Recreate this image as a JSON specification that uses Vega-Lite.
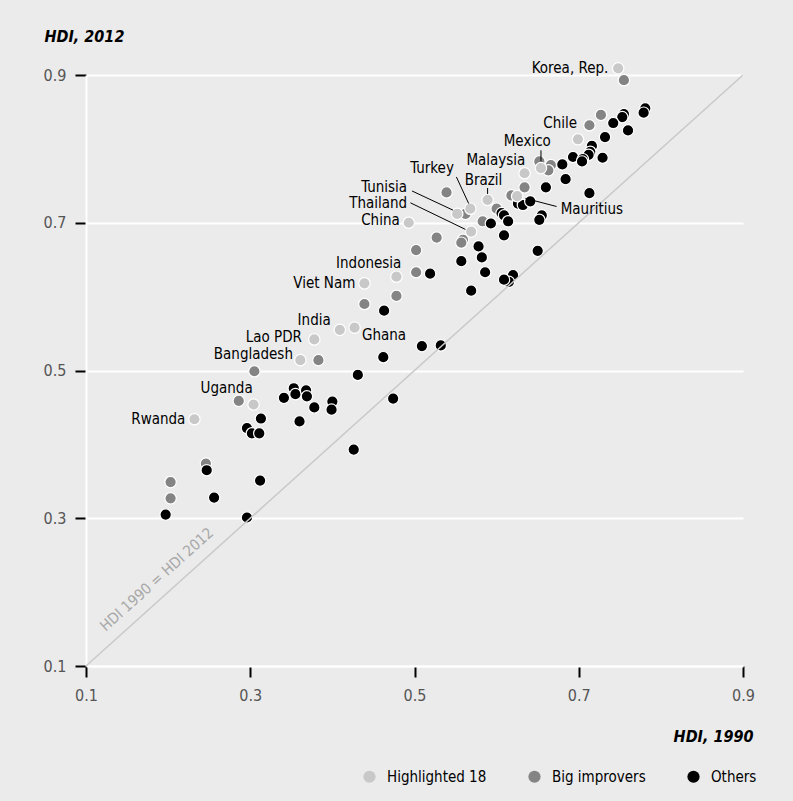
{
  "$schema": "https://vega.github.io/schema/vega-lite/v6.json",
  "width": 657,
  "height": 591,
  "autosize": {"type": "none"},
  "padding": {"left": 86, "top": 75, "right": 50, "bottom": 135},
  "background": "#ebebeb",
  "config": {
    "view": {"stroke": null},
    "font": "DejaVu Sans Condensed, sans-serif"
  },
  "datasets": {
    "diag": [{"x": 0.1, "y": 0.1, "x2": 0.9, "y2": 0.9}],
    "diaglabel": [{"x": 0.124, "y": 0.146, "text": "HDI 1990 = HDI 2012"}],
    "points": [
      {"x": 0.755, "y": 0.893, "group": "Big improvers"},
      {"x": 0.727, "y": 0.846, "group": "Big improvers"},
      {"x": 0.713, "y": 0.832, "group": "Big improvers"},
      {"x": 0.652, "y": 0.783, "group": "Big improvers"},
      {"x": 0.666, "y": 0.778, "group": "Big improvers"},
      {"x": 0.663, "y": 0.771, "group": "Big improvers"},
      {"x": 0.634, "y": 0.748, "group": "Big improvers"},
      {"x": 0.618, "y": 0.737, "group": "Big improvers"},
      {"x": 0.539, "y": 0.741, "group": "Big improvers"},
      {"x": 0.562, "y": 0.712, "group": "Big improvers"},
      {"x": 0.600, "y": 0.719, "group": "Big improvers"},
      {"x": 0.583, "y": 0.702, "group": "Big improvers"},
      {"x": 0.559, "y": 0.677, "group": "Big improvers"},
      {"x": 0.557, "y": 0.673, "group": "Big improvers"},
      {"x": 0.527, "y": 0.680, "group": "Big improvers"},
      {"x": 0.502, "y": 0.663, "group": "Big improvers"},
      {"x": 0.502, "y": 0.633, "group": "Big improvers"},
      {"x": 0.478, "y": 0.601, "group": "Big improvers"},
      {"x": 0.439, "y": 0.590, "group": "Big improvers"},
      {"x": 0.383, "y": 0.514, "group": "Big improvers"},
      {"x": 0.305, "y": 0.499, "group": "Big improvers"},
      {"x": 0.286, "y": 0.459, "group": "Big improvers"},
      {"x": 0.246, "y": 0.374, "group": "Big improvers"},
      {"x": 0.203, "y": 0.349, "group": "Big improvers"},
      {"x": 0.203, "y": 0.327, "group": "Big improvers"},
      {"x": 0.781, "y": 0.855, "group": "Others"},
      {"x": 0.779, "y": 0.849, "group": "Others"},
      {"x": 0.755, "y": 0.847, "group": "Others"},
      {"x": 0.753, "y": 0.843, "group": "Others"},
      {"x": 0.742, "y": 0.835, "group": "Others"},
      {"x": 0.760, "y": 0.825, "group": "Others"},
      {"x": 0.732, "y": 0.816, "group": "Others"},
      {"x": 0.716, "y": 0.804, "group": "Others"},
      {"x": 0.714, "y": 0.796, "group": "Others"},
      {"x": 0.712, "y": 0.792, "group": "Others"},
      {"x": 0.729, "y": 0.788, "group": "Others"},
      {"x": 0.693, "y": 0.789, "group": "Others"},
      {"x": 0.705, "y": 0.786, "group": "Others"},
      {"x": 0.704, "y": 0.783, "group": "Others"},
      {"x": 0.680, "y": 0.779, "group": "Others"},
      {"x": 0.684, "y": 0.759, "group": "Others"},
      {"x": 0.660, "y": 0.748, "group": "Others"},
      {"x": 0.713, "y": 0.740, "group": "Others"},
      {"x": 0.626, "y": 0.726, "group": "Others"},
      {"x": 0.632, "y": 0.724, "group": "Others"},
      {"x": 0.641, "y": 0.729, "group": "Others"},
      {"x": 0.606, "y": 0.713, "group": "Others"},
      {"x": 0.609, "y": 0.710, "group": "Others"},
      {"x": 0.614, "y": 0.702, "group": "Others"},
      {"x": 0.593, "y": 0.699, "group": "Others"},
      {"x": 0.655, "y": 0.710, "group": "Others"},
      {"x": 0.652, "y": 0.704, "group": "Others"},
      {"x": 0.609, "y": 0.683, "group": "Others"},
      {"x": 0.578, "y": 0.668, "group": "Others"},
      {"x": 0.650, "y": 0.662, "group": "Others"},
      {"x": 0.582, "y": 0.653, "group": "Others"},
      {"x": 0.557, "y": 0.648, "group": "Others"},
      {"x": 0.519, "y": 0.631, "group": "Others"},
      {"x": 0.586, "y": 0.633, "group": "Others"},
      {"x": 0.620, "y": 0.629, "group": "Others"},
      {"x": 0.615, "y": 0.620, "group": "Others"},
      {"x": 0.609, "y": 0.623, "group": "Others"},
      {"x": 0.569, "y": 0.608, "group": "Others"},
      {"x": 0.463, "y": 0.581, "group": "Others"},
      {"x": 0.509, "y": 0.533, "group": "Others"},
      {"x": 0.532, "y": 0.534, "group": "Others"},
      {"x": 0.462, "y": 0.518, "group": "Others"},
      {"x": 0.431, "y": 0.494, "group": "Others"},
      {"x": 0.474, "y": 0.462, "group": "Others"},
      {"x": 0.400, "y": 0.458, "group": "Others"},
      {"x": 0.399, "y": 0.447, "group": "Others"},
      {"x": 0.426, "y": 0.393, "group": "Others"},
      {"x": 0.353, "y": 0.476, "group": "Others"},
      {"x": 0.355, "y": 0.468, "group": "Others"},
      {"x": 0.368, "y": 0.473, "group": "Others"},
      {"x": 0.369, "y": 0.465, "group": "Others"},
      {"x": 0.341, "y": 0.463, "group": "Others"},
      {"x": 0.378, "y": 0.450, "group": "Others"},
      {"x": 0.360, "y": 0.431, "group": "Others"},
      {"x": 0.313, "y": 0.435, "group": "Others"},
      {"x": 0.296, "y": 0.422, "group": "Others"},
      {"x": 0.302, "y": 0.415, "group": "Others"},
      {"x": 0.311, "y": 0.415, "group": "Others"},
      {"x": 0.247, "y": 0.365, "group": "Others"},
      {"x": 0.312, "y": 0.351, "group": "Others"},
      {"x": 0.256, "y": 0.328, "group": "Others"},
      {"x": 0.197, "y": 0.305, "group": "Others"},
      {"x": 0.296, "y": 0.301, "group": "Others"},
      {"x": 0.748, "y": 0.909, "group": "Highlighted 18", "country": "Korea, Rep."},
      {"x": 0.699, "y": 0.813, "group": "Highlighted 18", "country": "Chile"},
      {"x": 0.654, "y": 0.774, "group": "Highlighted 18", "country": "Mexico"},
      {"x": 0.634, "y": 0.767, "group": "Highlighted 18", "country": "Malaysia"},
      {"x": 0.589, "y": 0.731, "group": "Highlighted 18", "country": "Brazil"},
      {"x": 0.625, "y": 0.736, "group": "Highlighted 18", "country": "Mauritius"},
      {"x": 0.568, "y": 0.719, "group": "Highlighted 18", "country": "Turkey"},
      {"x": 0.552, "y": 0.712, "group": "Highlighted 18", "country": "Tunisia"},
      {"x": 0.569, "y": 0.688, "group": "Highlighted 18", "country": "Thailand"},
      {"x": 0.493, "y": 0.700, "group": "Highlighted 18", "country": "China"},
      {"x": 0.478, "y": 0.627, "group": "Highlighted 18", "country": "Indonesia"},
      {"x": 0.439, "y": 0.618, "group": "Highlighted 18", "country": "Viet Nam"},
      {"x": 0.409, "y": 0.555, "group": "Highlighted 18", "country": "India"},
      {"x": 0.427, "y": 0.558, "group": "Highlighted 18", "country": "Ghana"},
      {"x": 0.378, "y": 0.542, "group": "Highlighted 18", "country": "Lao PDR"},
      {"x": 0.361, "y": 0.514, "group": "Highlighted 18", "country": "Bangladesh"},
      {"x": 0.304, "y": 0.454, "group": "Highlighted 18", "country": "Uganda"},
      {"x": 0.232, "y": 0.434, "group": "Highlighted 18", "country": "Rwanda"}
    ],
    "leaders": [
      {"x": 0.654, "y": 0.798, "x2": 0.654, "y2": 0.783},
      {"x": 0.589, "y": 0.747, "x2": 0.589, "y2": 0.739},
      {"x": 0.551, "y": 0.762, "x2": 0.566, "y2": 0.726},
      {"x": 0.497, "y": 0.743, "x2": 0.547, "y2": 0.717},
      {"x": 0.495, "y": 0.727, "x2": 0.562, "y2": 0.691},
      {"x": 0.635, "y": 0.733, "x2": 0.673, "y2": 0.722}
    ],
    "labelsRight": [
      {"x": 0.736, "y": 0.909, "text": "Korea, Rep."},
      {"x": 0.698, "y": 0.835, "text": "Chile"},
      {"x": 0.666, "y": 0.810, "text": "Mexico"},
      {"x": 0.635, "y": 0.785, "text": "Malaysia"},
      {"x": 0.548, "y": 0.774, "text": "Turkey"},
      {"x": 0.607, "y": 0.758, "text": "Brazil"},
      {"x": 0.491, "y": 0.749, "text": "Tunisia"},
      {"x": 0.491, "y": 0.727, "text": "Thailand"},
      {"x": 0.482, "y": 0.704, "text": "China"},
      {"x": 0.484, "y": 0.645, "text": "Indonesia"},
      {"x": 0.428, "y": 0.618, "text": "Viet Nam"},
      {"x": 0.398, "y": 0.569, "text": "India"},
      {"x": 0.363, "y": 0.546, "text": "Lao PDR"},
      {"x": 0.352, "y": 0.523, "text": "Bangladesh"},
      {"x": 0.303, "y": 0.476, "text": "Uganda"},
      {"x": 0.221, "y": 0.435, "text": "Rwanda"}
    ],
    "labelsLeft": [
      {"x": 0.436, "y": 0.548, "text": "Ghana"},
      {"x": 0.678, "y": 0.718, "text": "Mauritius"}
    ]
  },
  "layer": [
    {
      "data": {"name": "points"},
      "mark": {"type": "point", "filled": true, "size": 130, "stroke": "white", "strokeWidth": 1.2, "opacity": 1},
      "encoding": {
        "x": {
          "field": "x", "type": "quantitative",
          "scale": {"domain": [0.1, 0.9], "nice": false, "zero": false},
          "axis": {
            "title": "HDI, 1990",
            "values": [0.1, 0.3, 0.5, 0.7, 0.9],
            "format": ".1f",
            "grid": false, "labelFlush": false,
            "domain": true, "domainColor": "white", "domainWidth": 2,
            "ticks": true, "tickColor": "black", "tickWidth": 2, "tickSize": 11,
            "labelFontSize": 16, "labelColor": "#555555", "labelPadding": 10,
            "titleFontSize": 16, "titleFontStyle": "italic", "titleFontWeight": "bold", "titleColor": "black",
            "titleAnchor": "end", "titleAlign": "right", "titleBaseline": "alphabetic",
            "titleX": 667, "titleY": 75
          }
        },
        "y": {
          "field": "y", "type": "quantitative",
          "scale": {"domain": [0.1, 0.9], "nice": false, "zero": false},
          "axis": {
            "title": "HDI, 2012",
            "values": [0.1, 0.3, 0.5, 0.7, 0.9],
            "format": ".1f",
            "grid": true, "gridColor": "white", "gridWidth": 2, "labelFlush": false,
            "domain": true, "domainColor": "white", "domainWidth": 2,
            "ticks": true, "tickColor": "black", "tickWidth": 2, "tickSize": 11,
            "labelFontSize": 16, "labelColor": "#555555", "labelPadding": 9,
            "titleFontSize": 16, "titleFontStyle": "italic", "titleFontWeight": "bold", "titleColor": "black",
            "titleAngle": 0, "titleAlign": "left", "titleBaseline": "alphabetic",
            "titleX": -42, "titleY": -34
          }
        },
        "color": {
          "field": "group", "type": "nominal",
          "scale": {"domain": ["Highlighted 18", "Big improvers", "Others"], "range": ["#c8c8c8", "#848484", "#000000"]},
          "legend": {
            "title": null, "orient": "none", "direction": "horizontal",
            "legendX": 276, "legendY": 694,
            "symbolType": "circle", "symbolSize": 150, "symbolStrokeWidth": 0, "symbolOpacity": 1,
            "labelFontSize": 15, "labelColor": "#000000", "labelOffset": 10,
            "columnPadding": 40, "padding": 0
          }
        }
      }
    },
    {
      "data": {"name": "diag"},
      "mark": {"type": "rule", "color": "#c9c9c9", "strokeWidth": 1.5},
      "encoding": {
        "x": {"field": "x", "type": "quantitative"},
        "y": {"field": "y", "type": "quantitative"},
        "x2": {"field": "x2"},
        "y2": {"field": "y2"}
      }
    },
    {
      "data": {"name": "diaglabel"},
      "mark": {"type": "text", "angle": 318, "align": "left", "baseline": "alphabetic", "fontSize": 15, "color": "#a8a8a8"},
      "encoding": {
        "x": {"field": "x", "type": "quantitative"},
        "y": {"field": "y", "type": "quantitative"},
        "text": {"field": "text"}
      }
    },
    {
      "data": {"name": "leaders"},
      "mark": {"type": "rule", "color": "black", "strokeWidth": 1},
      "encoding": {
        "x": {"field": "x", "type": "quantitative"},
        "y": {"field": "y", "type": "quantitative"},
        "x2": {"field": "x2"},
        "y2": {"field": "y2"}
      }
    },
    {
      "data": {"name": "labelsRight"},
      "mark": {"type": "text", "align": "right", "baseline": "middle", "fontSize": 15, "color": "#000000"},
      "encoding": {
        "x": {"field": "x", "type": "quantitative"},
        "y": {"field": "y", "type": "quantitative"},
        "text": {"field": "text"}
      }
    },
    {
      "data": {"name": "labelsLeft"},
      "mark": {"type": "text", "align": "left", "baseline": "middle", "fontSize": 15, "color": "#000000"},
      "encoding": {
        "x": {"field": "x", "type": "quantitative"},
        "y": {"field": "y", "type": "quantitative"},
        "text": {"field": "text"}
      }
    }
  ]
}
